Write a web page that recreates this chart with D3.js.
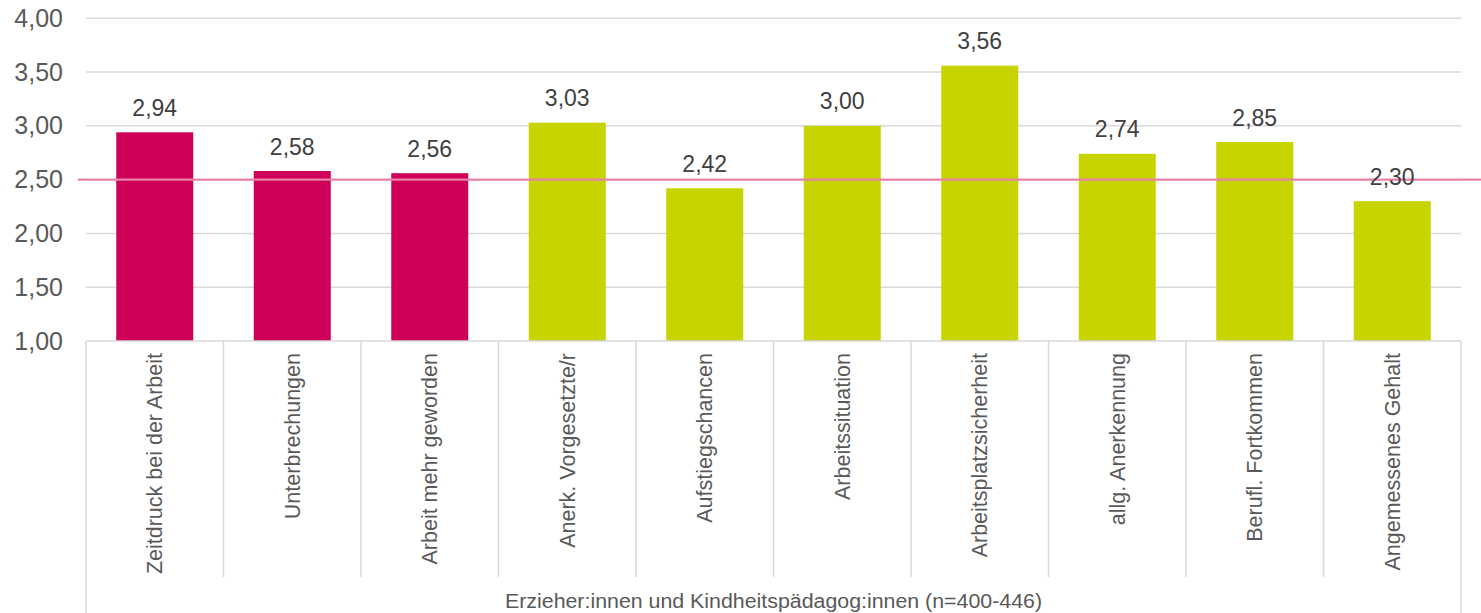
<!DOCTYPE html>
<html>
<head>
<meta charset="utf-8">
<script src="https://cdn.jsdelivr.net/npm/d3@7"></script>
<style>
  html, body { margin: 0; padding: 0; background: #fff; }
  svg { display: block; font-family: "Liberation Sans", Arial, sans-serif; }
</style>
</head>
<body>
<svg id="chart" width="1481" height="613"></svg>
<script>
const categories = ["Zeitdruck bei der Arbeit", "Unterbrechungen", "Arbeit mehr geworden", "Anerk. Vorgesetzte/r", "Aufstiegschancen", "Arbeitssituation", "Arbeitsplatzsicherheit", "allg. Anerkennung", "Berufl. Fortkommen", "Angemessenes Gehalt"];
const values = [2.94, 2.58, 2.56, 3.03, 2.42, 3.00, 3.56, 2.74, 2.85, 2.30];
const groups = ["belastung", "belastung", "belastung", "zufr", "zufr", "zufr", "zufr", "zufr", "zufr", "zufr"];
const yTicks = [1.0, 1.5, 2.0, 2.5, 3.0, 3.5, 4.0];
const referenceValue = 2.5;
const groupLabel = "Erzieher:innen und Kindheitspädagog:innen (n=400-446)";

const svg = d3.select("#chart");
const pLeft = 86, pRight = 1461, pTop = 18.3, pBottom = 341;
const fmt = v => v.toFixed(2).replace(".", ",");

const x = d3.scaleBand().domain(categories).range([pLeft, pRight]).paddingInner(0.44).paddingOuter(0.22);
const y = d3.scaleLinear().domain([1, 4]).range([pBottom, pTop]);
const color = d3.scaleOrdinal().domain(["belastung", "zufr"]).range(["#CE0058", "#C8D400"]);

// gridlines
svg.append("g").selectAll("line").data(yTicks.filter(t => t > 1)).join("line")
  .attr("x1", pLeft).attr("x2", pRight)
  .attr("y1", d => y(d)).attr("y2", d => y(d))
  .attr("stroke", "#D9D9D9").attr("stroke-width", 1.5);

// y tick labels
const yAxis = d3.axisLeft(y).tickValues(yTicks).tickFormat(fmt).tickSize(0).tickPadding(0);
const ya = svg.append("g").attr("transform", `translate(63,0)`).call(yAxis);
ya.select(".domain").remove();
ya.selectAll("text").attr("font-size", 25).attr("fill", "#595959")
  .attr("font-family", "Liberation Sans, Arial, sans-serif");

// bars
svg.append("g").selectAll("rect").data(values).join("rect")
  .attr("x", (d, i) => x(categories[i]))
  .attr("width", x.bandwidth())
  .attr("y", d => y(d))
  .attr("height", d => y(1) - y(d))
  .attr("fill", (d, i) => color(groups[i]));

// category axis line
svg.append("line").attr("x1", pLeft).attr("x2", pRight).attr("y1", pBottom).attr("y2", pBottom)
  .attr("stroke", "#D9D9D9").attr("stroke-width", 1.5);

// category separators
const bounds = d3.range(categories.length + 1).map(i => pLeft + i * (pRight - pLeft) / categories.length);
svg.append("g").selectAll("line").data(bounds).join("line")
  .attr("x1", d => d).attr("x2", d => d)
  .attr("y1", pBottom)
  .attr("y2", (d, i) => (i === 0 || i === categories.length) ? 613 : 577)
  .attr("stroke", "#D9D9D9").attr("stroke-width", 1.5);

// category labels
svg.append("g").selectAll("text").data(categories).join("text")
  .attr("transform", d => `translate(${x(d) + x.bandwidth() / 2},${pBottom + 12}) rotate(-90)`)
  .attr("text-anchor", "end")
  .attr("dy", "0.35em")
  .attr("font-size", 21.5)
  .attr("fill", "#595959")
  .text(d => d);

// group label
svg.append("text")
  .attr("x", (pLeft + pRight) / 2).attr("y", 608)
  .attr("text-anchor", "middle")
  .attr("font-size", 20)
  .attr("fill", "#595959")
  .attr("textLength", 537).attr("lengthAdjust", "spacingAndGlyphs")
  .text(groupLabel);

// reference line
svg.append("line").attr("x1", 78).attr("x2", 1481)
  .attr("y1", y(referenceValue)).attr("y2", y(referenceValue))
  .attr("stroke", "#E882AA").attr("stroke-width", 2.2);

// value labels
svg.append("g").selectAll("text").data(values).join("text")
  .attr("x", (d, i) => x(categories[i]) + x.bandwidth() / 2)
  .attr("y", d => y(d) - 16.5)
  .attr("text-anchor", "middle")
  .attr("font-size", 23)
  .attr("fill", "#404040")
  .text(d => fmt(d));
</script>
</body>
</html>
